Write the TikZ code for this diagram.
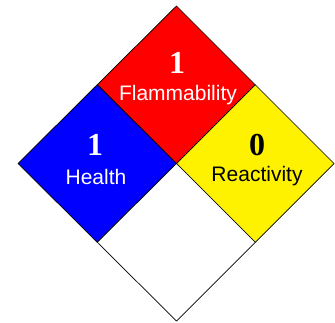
\documentclass[tikz,border=0pt]{standalone}
\usepackage{fontspec}
\setmainfont{Liberation Serif}
\setsansfont{Liberation Sans}
\usetikzlibrary{calc}
\begin{document}
\begin{tikzpicture}[x=1pt,y=-1pt,line width=0.7pt,
    num/.style={font=\fontsize{32}{32}\selectfont\rmfamily\bfseries,anchor=base},
    word/.style={font=\fontsize{21}{21}\selectfont\sffamily,anchor=base}]
        \useasboundingbox (0,0) rectangle (335,322);

        \coordinate (top) at (176.5,6);
        \coordinate (left) at (18,163.5);
        \coordinate (right) at (334,163.5);
        \coordinate (bottom) at (176.5,321);
        \coordinate (mid) at (176.5,163.5);
        \coordinate (tl) at ($(top)!0.5!(left)$);
        \coordinate (tr) at ($(top)!0.5!(right)$);
        \coordinate (bl) at ($(bottom)!0.5!(left)$);
        \coordinate (br) at ($(bottom)!0.5!(right)$);

        \draw[fill=red] (top) -- (tr) -- (mid) -- (tl) -- cycle;
        \draw[fill=blue] (tl) -- (mid) -- (bl) -- (left) -- cycle;
        \draw[fill=yellow] (tr) -- (right) -- (br) -- (mid) -- cycle;
        \draw[fill=white] (mid) -- (br) -- (bottom) -- (bl) -- cycle;

        \node[num,text=white] (fnum) at (177,73) {1};
        \node[word,text=white] (flam) at (178,100) {Flammability};
        \node[num,text=white] (hnum) at (95,155) {1};
        \node[word,text=white] (heal) at (96,184) {Health};
        \node[num] (rnum) at (257,155) {0};
        \node[word] (reac) at (257,181) {Reactivity};
    \end{tikzpicture}
\end{document}
